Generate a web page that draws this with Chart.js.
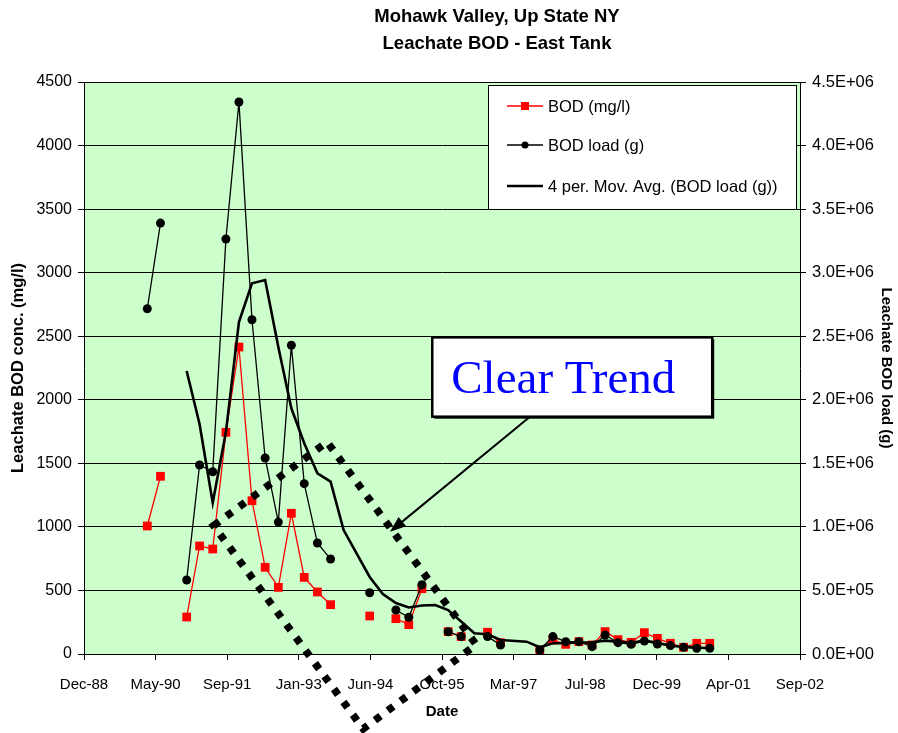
<!DOCTYPE html>
<html><head><meta charset="utf-8">
<script src="https://cdn.jsdelivr.net/npm/chart.js@4/dist/chart.umd.min.js"></script>
<style>html,body{margin:0;padding:0;background:#fff;overflow:hidden}</style>
</head><body>
<canvas id="c" width="898" height="733" style="width:898px;height:733px;display:block"></canvas>
<script>
// ---- data ----
const quarters = ['1990-03','1990-06','1990-09','1990-12','1991-03','1991-06','1991-09','1991-12',
  '1992-03','1992-06','1992-09','1992-12','1993-03','1993-06','1993-09','1993-12',
  '1994-03','1994-06','1994-09','1994-12','1995-03','1995-06','1995-09','1995-12',
  '1996-03','1996-06','1996-09','1996-12','1997-03','1997-06','1997-09','1997-12',
  '1998-03','1998-06','1998-09','1998-12','1999-03','1999-06','1999-09','1999-12',
  '2000-03','2000-06','2000-09','2000-12'];
const bodConc = [1007,1398,null,291, 850,826,1744,2415, 1206,682,524,1107, 603,488,388,null,
  null,299,null,278, 231,514,null,176, 137,null,171,89, null,null,31,110,
  76,97,71,176, 113,92,168,123, 84,53,84,84];
const bodLoad = [2716000,3390000,null,582000, 1487000,1434000,3265000,4343000,
  2630000,1542000,1038000,2429000, 1340000,873000,747000,null,
  null,482000,null,346000, 289000,545000,null,175000, 137000,null,137000,71000,
  null,null,31000,137000, 97000,97000,58000,149000, 89000,76000,102000,79000,
  66000,53000,45000,45000];
const maQuarters = ['1990-12','1991-03','1991-06','1991-09','1991-12','1992-03','1992-06','1992-09',
  '1992-12','1993-03','1993-06','1993-09','1993-12','1994-06','1994-09','1994-12',
  '1995-03','1995-06','1995-09','1995-12','1996-06','1996-09','1996-12','1997-06',
  '1997-09','1997-12','1998-03','1998-06','1998-09','1998-12','1999-03','1999-06',
  '1999-09','1999-12','2000-03','2000-06','2000-09','2000-12'];
const maLoad = [2226000,1810000,1190000,1746000,2612000,2916000,2942000,2415000,
  1933000,1658000,1422000,1356000,975000,606000,472000,401000,
  366000,382000,385000,346000,163000,155000,110000,97000,
  53000,84000,84000,90000,92000,105000,97000,89000,
  105000,89000,65000,57000,51000,45000];
const xTickValues = [32500,33000,33500,34000,34500,35000,35500,36000,36500,37000,37500]; // Excel day serials
const xTickLabels = ['Dec-88','May-90','Sep-91','Jan-93','Jun-94','Oct-95','Mar-97','Jul-98','Dec-99','Apr-01','Sep-02'];
const leftTicks = [0,500,1000,1500,2000,2500,3000,3500,4000,4500];
const rightTicks = [0,500000,1000000,1500000,2000000,2500000,3000000,3500000,4000000,4500000];
const rightTickLabels = ['0.0E+00','5.0E+05','1.0E+06','1.5E+06','2.0E+06','2.5E+06','3.0E+06','3.5E+06','4.0E+06','4.5E+06'];
const titleLines = ['Mohawk Valley, Up State NY','Leachate BOD - East Tank'];

// annotation geometry in data units (x: Excel serial, y: mg/l on left axis)
const trendShape = [[33405,1010],[34198,1668],[35239,73],[34450,-589]];
const noteBox = {x0:34932, y0:2491, x1:36887, y1:1867, text:'Clear Trend'};
const noteArrow = {from:[35614,1867], to:[34637,962]};

function serial(q){const [y,m]=q.split('-').map(Number);return (Date.UTC(y,m-1,10)-Date.UTC(1899,11,30))/86400000;}
function pts(qs,vals){return qs.map((q,i)=>({x:serial(q),y:vals[i]}));}

const FONT = "'Liberation Sans', Arial, sans-serif";

const bgPlugin = {id:'bg', beforeDraw(chart){const {ctx,chartArea:a}=chart;ctx.save();ctx.fillStyle='#CCFFCC';ctx.fillRect(a.left,a.top,a.right-a.left,a.bottom-a.top);ctx.restore();},
  afterDatasetsDraw(chart){const {ctx,chartArea:a}=chart;ctx.save();ctx.strokeStyle='#000';ctx.lineWidth=1;ctx.beginPath();ctx.moveTo(a.left,a.top+0.5);ctx.lineTo(a.right,a.top+0.5);ctx.stroke();ctx.restore();}};

const titlePlugin = {id:'ttl', afterDraw(chart){const ctx=chart.ctx;ctx.save();ctx.fillStyle='#000';ctx.font='bold 18.5px '+FONT;ctx.textAlign='center';ctx.textBaseline='middle';
  ctx.fillText(titleLines[0],497,17);ctx.fillText(titleLines[1],497,44);ctx.restore();}};

const legendPlugin = {id:'lgd', afterDatasetsDraw(chart){
  const ctx=chart.ctx;ctx.save();
  const L=488,T=85,R=796,B=209;
  ctx.fillStyle='#fff';ctx.fillRect(L,T,R-L,B-T);
  ctx.strokeStyle='#000';ctx.lineWidth=1;ctx.strokeRect(L+0.5,T+0.5,R-L,B-T);
  const rows=[106,145,186];
  const order=[0,1,2];
  ctx.font='16.5px '+FONT;ctx.textBaseline='middle';ctx.textAlign='left';
  order.forEach((di,k)=>{const ds=chart.data.datasets[di];const y=rows[k];
    ctx.strokeStyle=ds.borderColor;ctx.lineWidth=ds.borderWidth;ctx.beginPath();ctx.moveTo(507,y);ctx.lineTo(543,y);ctx.stroke();
    if(ds.pointRadius>0){ctx.fillStyle=ds.pointBackgroundColor;
      if(ds.pointStyle==='rect'){ctx.fillRect(525-4,y-4,8,8);}else{ctx.beginPath();ctx.arc(525,y,3.5,0,Math.PI*2);ctx.fill();}}
    ctx.fillStyle='#000';ctx.fillText(ds.label,548,y+1);
  });
  ctx.restore();}};

const annotPlugin = {id:'annot', afterDraw(chart){
  const ctx=chart.ctx, xs=chart.scales.x, ys=chart.scales.y;
  const P=p=>[xs.getPixelForValue(p[0]),ys.getPixelForValue(p[1])];
  ctx.save();
  // note box
  const [bx0,by0]=P([noteBox.x0,noteBox.y0]),[bx1,by1]=P([noteBox.x1,noteBox.y1]);
  ctx.fillStyle='#000';ctx.fillRect(bx0+2,by0+2,bx1-bx0,by1-by0);
  ctx.fillStyle='#fff';ctx.fillRect(bx0,by0,bx1-bx0,by1-by0);
  ctx.strokeStyle='#000';ctx.lineWidth=2.5;ctx.strokeRect(bx0,by0,bx1-bx0,by1-by0);
  ctx.fillStyle='#0000FF';ctx.font="47px 'Liberation Serif', 'Times New Roman', serif";ctx.textBaseline='alphabetic';ctx.textAlign='left';
  ctx.fillText(noteBox.text,bx0+19,by0+56);
  // arrow
  const [ax0,ay0]=P(noteArrow.from),[ax1,ay1]=P(noteArrow.to);
  const ang=Math.atan2(ay1-ay0,ax1-ax0);
  ctx.strokeStyle='#000';ctx.lineWidth=2;ctx.beginPath();ctx.moveTo(ax0,ay0);ctx.lineTo(ax1-10*Math.cos(ang),ay1-10*Math.sin(ang));ctx.stroke();
  ctx.fillStyle='#000';ctx.beginPath();ctx.moveTo(ax1,ay1);
  ctx.lineTo(ax1-16*Math.cos(ang)+6*Math.sin(ang),ay1-16*Math.sin(ang)-6*Math.cos(ang));
  ctx.lineTo(ax1-16*Math.cos(ang)-6*Math.sin(ang),ay1-16*Math.sin(ang)+6*Math.cos(ang));
  ctx.closePath();ctx.fill();
  // dotted parallelogram
  ctx.setLineDash([7,9]);ctx.lineWidth=7.5;ctx.lineCap='butt';ctx.strokeStyle='#000';
  ctx.beginPath();trendShape.forEach((p,i)=>{const [x,y]=P(p);if(i===0)ctx.moveTo(x,y);else ctx.lineTo(x,y);});ctx.closePath();ctx.stroke();
  ctx.restore();}};

new Chart(document.getElementById('c'),{
  type:'line',
  data:{datasets:[
    {label:'BOD (mg/l)',data:pts(quarters,bodConc),yAxisID:'y',borderColor:'#FF0000',backgroundColor:'#FF0000',pointBackgroundColor:'#FF0000',pointBorderColor:'#FF0000',
      borderWidth:1.3,pointStyle:'rect',pointRadius:6.2,pointBorderWidth:0,spanGaps:false,order:3},
    {label:'BOD load (g)',data:pts(quarters,bodLoad),yAxisID:'y1',borderColor:'#000',backgroundColor:'#000',pointBackgroundColor:'#000',pointBorderColor:'#000',
      borderWidth:1.3,pointStyle:'circle',pointRadius:4.5,pointBorderWidth:0,spanGaps:false,order:2},
    {label:'4 per. Mov. Avg. (BOD load (g))',data:pts(maQuarters,maLoad),yAxisID:'y1',borderColor:'#000',backgroundColor:'#000',pointBackgroundColor:'#000',
      borderWidth:2.6,pointRadius:0,spanGaps:false,order:1}
  ]},
  options:{
    responsive:false,animation:false,devicePixelRatio:1,
    layout:{padding:{left:0,right:0,top:82,bottom:0}},
    plugins:{legend:{display:false},tooltip:{enabled:false},title:{display:false}},
    elements:{line:{tension:0}},
    scales:{
      x:{type:'linear',position:'bottom',min:32500,max:37500,
        afterBuildTicks:s=>{s.ticks=xTickValues.map(v=>({value:v}));},
        afterFit:s=>{s.height=79;},
        ticks:{callback:(v)=>xTickLabels[xTickValues.indexOf(v)],color:'#000',font:{family:FONT,size:15},padding:16,maxRotation:0,autoSkip:false},
        grid:{drawOnChartArea:false,color:'#000',tickLength:6},border:{color:'#000'},
        title:{display:true,text:'Date',color:'#000',font:{family:FONT,size:15,weight:'bold'},padding:{top:4,bottom:12}}},
      y:{type:'linear',position:'left',min:0,max:4500,
        afterBuildTicks:s=>{s.ticks=leftTicks.map(v=>({value:v}));},
        afterFit:s=>{s.width=84;},
        ticks:{color:'#000',font:{family:FONT,size:16},padding:6,callback:v=>String(v)},
        grid:{color:'#000',tickLength:6},border:{color:'#000'},
        title:{display:true,text:'Leachate BOD conc. (mg/l)',color:'#000',font:{family:FONT,size:16.5,weight:'bold'},padding:{top:9,bottom:4}}},
      y1:{type:'linear',position:'right',min:0,max:4500000,
        afterBuildTicks:s=>{s.ticks=rightTicks.map(v=>({value:v}));},
        afterFit:s=>{s.width=98;},
        ticks:{color:'#000',font:{family:FONT,size:16.5},padding:6,callback:v=>rightTickLabels[rightTicks.indexOf(v)]},
        grid:{drawOnChartArea:false,color:'#000',tickLength:6},border:{color:'#000'},
        title:{display:true,text:'Leachate BOD load (g)',color:'#000',font:{family:FONT,size:15,weight:'bold'},padding:{top:3,bottom:4}}}
    }
  },
  plugins:[bgPlugin,legendPlugin,annotPlugin,titlePlugin]
});
</script>
</body></html>
